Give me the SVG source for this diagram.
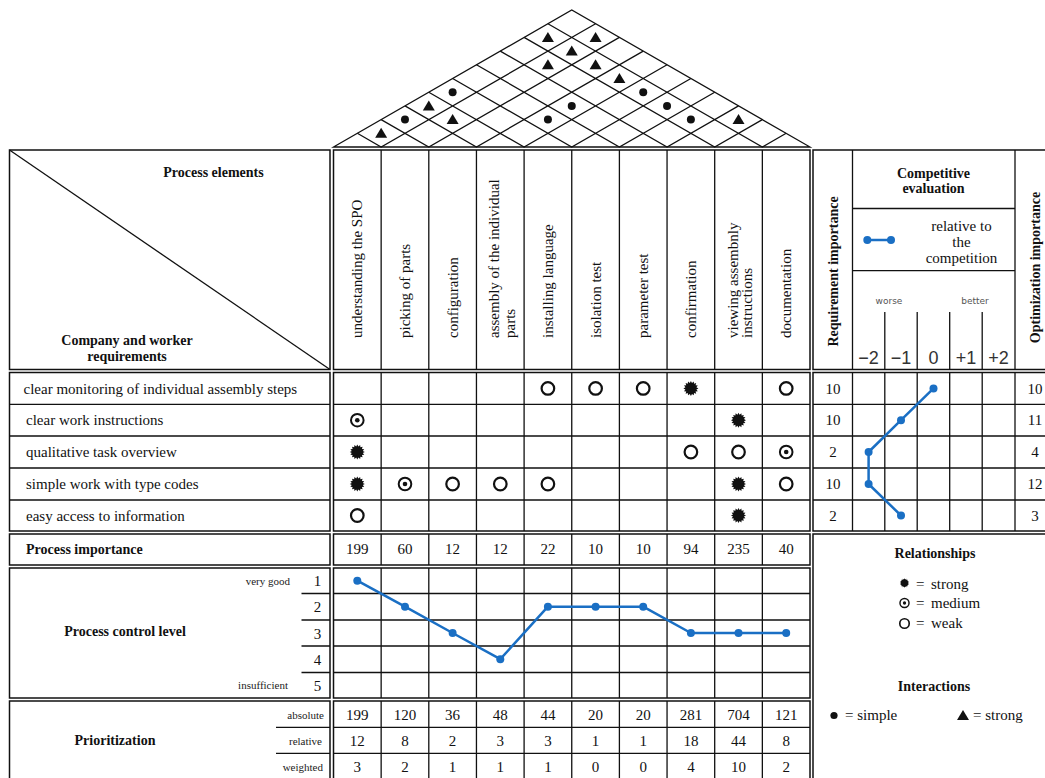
<svg xmlns="http://www.w3.org/2000/svg" width="1045" height="778" viewBox="0 0 1045 778">
<style>
.b{fill:none;stroke:#111;stroke-width:1.5}
.g{fill:none;stroke:#111;stroke-width:1.3}
text{font-family:"Liberation Serif","Times New Roman",serif;font-size:15px;fill:#111}
.bd{font-weight:bold;font-size:14px}
.c{text-anchor:middle}
.e{text-anchor:end}
.sm{font-size:11px;fill:#222}
.ss{font-family:"DejaVu Sans",sans-serif;font-size:9px;fill:#555}
.sc{font-family:"Liberation Sans",sans-serif;font-size:18px;fill:#333;text-anchor:middle}
.bl{fill:none;stroke:#1a6fc4;stroke-width:2.5;stroke-linejoin:round}
.bp{fill:#1a6fc4}
</style>
<defs>
<polygon id="strong" fill="#111" points="7.5,0 5.49,1.09 6.93,2.87 4.66,3.11 5.3,5.3 3.11,4.66 2.87,6.93 1.09,5.49 0,7.5 -1.09,5.49 -2.87,6.93 -3.11,4.66 -5.3,5.3 -4.66,3.11 -6.93,2.87 -5.49,1.09 -7.5,0 -5.49,-1.09 -6.93,-2.87 -4.66,-3.11 -5.3,-5.3 -3.11,-4.66 -2.87,-6.93 -1.09,-5.49 0,-7.5 1.09,-5.49 2.87,-6.93 3.11,-4.66 5.3,-5.3 4.66,-3.11 6.93,-2.87 5.49,-1.09"/>
<g id="medium"><circle r="6.3" fill="none" stroke="#111" stroke-width="2"/><circle r="2.3" fill="#111"/></g>
<circle id="weak" r="6.3" fill="none" stroke="#111" stroke-width="2.2"/>
<polygon id="tri" fill="#111" points="0,-5.5 6,4.5 -6,4.5"/>
<circle id="dot" r="4" fill="#111"/>
<circle id="bdot" r="4" class="bp"/>
</defs>
<rect width="1045" height="778" fill="#fff"/>

<!-- Roof -->
<g id="roof">
<polygon class="g" points="333.5,147 571.75,10 810,147"/>
<path class="g" d="M357.33,133.3L381.15,147L595.58,23.7M381.15,119.6L428.8,147L619.4,37.4M404.98,105.9L476.45,147L643.23,51.1M428.8,92.2L524.1,147L667.05,64.8M452.63,78.5L571.75,147L690.88,78.5M476.45,64.8L619.4,147L714.7,92.2M500.28,51.1L667.05,147L738.53,105.9M524.1,37.4L714.7,147L762.35,119.6M547.93,23.7L762.35,147L786.18,133.3"/>
<use href="#tri" x="381.15" y="133.3"/>
<use href="#dot" x="404.98" y="119.6"/>
<use href="#tri" x="428.8" y="105.9"/>
<use href="#dot" x="452.63" y="92.2"/>
<use href="#tri" x="452.63" y="119.6"/>
<use href="#dot" x="547.93" y="119.6"/>
<use href="#dot" x="571.75" y="105.9"/>
<use href="#tri" x="547.93" y="37.4"/>
<use href="#tri" x="595.58" y="37.4"/>
<use href="#tri" x="571.75" y="51.1"/>
<use href="#tri" x="547.93" y="64.8"/>
<use href="#tri" x="595.58" y="64.8"/>
<use href="#tri" x="619.4" y="78.5"/>
<use href="#dot" x="643.23" y="92.2"/>
<use href="#dot" x="667.05" y="105.9"/>
<use href="#dot" x="690.88" y="119.6"/>
<use href="#tri" x="738.53" y="119.6"/>
</g>

<!-- Header left -->
<g id="header-left">
<rect class="b" x="9.5" y="150" width="320.5" height="219.5"/>
<line class="g" x1="9.5" y1="150" x2="330" y2="369.5"/>
<text class="bd c" x="213.5" y="177">Process elements</text>
<text class="bd c" x="127" y="345">Company and worker</text>
<text class="bd c" x="127" y="360.5">requirements</text>
</g>

<!-- Header process columns -->
<g id="header-columns">
<rect class="b" x="333.5" y="150" width="476.5" height="219.5"/>
<path class="g" d="M381.15,150V369.5M428.8,150V369.5M476.45,150V369.5M524.1,150V369.5M571.75,150V369.5M619.4,150V369.5M667.05,150V369.5M714.7,150V369.5M762.35,150V369.5"/>
<text transform="translate(362.3,338) rotate(-90)">understanding the SPO</text>
<text transform="translate(410,338) rotate(-90)">picking of parts</text>
<text transform="translate(457.6,338) rotate(-90)">configuration</text>
<text transform="translate(499.3,338) rotate(-90)">assembly of the individual</text>
<text transform="translate(514.8,338) rotate(-90)">parts</text>
<text transform="translate(552.9,338) rotate(-90)">installing language</text>
<text transform="translate(600.6,338) rotate(-90)">isolation test</text>
<text transform="translate(648.2,338) rotate(-90)">parameter test</text>
<text transform="translate(695.9,338) rotate(-90)">confirmation</text>
<text transform="translate(738,338) rotate(-90)">viewing assembnly</text>
<text transform="translate(752,338) rotate(-90)">instructions</text>
<text transform="translate(791.2,338) rotate(-90)">documentation</text>
</g>

<!-- Header right -->
<g id="header-right">
<rect class="b" x="813" y="150" width="240" height="219.5"/>
<path class="g" d="M852.5,150V369.5M1015,150V369.5M852.5,208.5H1015M852.5,270.7H1015M884.8,312V369.5M917.2,312V369.5M949.7,312V369.5M982.2,312V369.5"/>
<text class="bd c" transform="translate(837.5,271.5) rotate(-90)">Requirement importance</text>
<text class="bd c" transform="translate(1039.5,267.5) rotate(-90)">Optimization importance</text>
<text class="bd c" x="933.5" y="178">Competitive</text>
<text class="bd c" x="933.5" y="193">evaluation</text>
<line class="bl" x1="867.3" y1="240" x2="891" y2="240"/>
<use href="#bdot" x="867.3" y="240"/>
<use href="#bdot" x="891" y="240"/>
<text class="c" x="961.5" y="231">relative to</text>
<text class="c" x="961.5" y="247">the</text>
<text class="c" x="961.5" y="263">competition</text>
<text class="ss c" x="889" y="304">worse</text>
<text class="ss c" x="975" y="304">better</text>
<text class="sc" x="868.6" y="364">−2</text>
<text class="sc" x="901" y="364">−1</text>
<text class="sc" x="933.5" y="364">0</text>
<text class="sc" x="966" y="364">+1</text>
<text class="sc" x="998.6" y="364">+2</text>
</g>

<!-- Requirements (rows) -->
<g id="requirements">
<rect class="b" x="9.5" y="372.5" width="320.5" height="158.5"/>
<path class="g" d="M9.5,404.3H330M9.5,436H330M9.5,468H330M9.5,500H330"/>
<text x="23.5" y="393.5">clear monitoring of individual assembly steps</text>
<text x="26" y="425.2">clear work instructions</text>
<text x="26" y="457">qualitative task overview</text>
<text x="26" y="489">simple work with type codes</text>
<text x="26" y="520.5">easy access to information</text>
</g>

<!-- Relationship matrix -->
<g id="relationship-matrix">
<rect class="b" x="333.5" y="372.5" width="476.5" height="158.5"/>
<path class="g" d="M333.5,404.3H810M333.5,436H810M333.5,468H810M333.5,500H810M381.15,372.5V531M428.8,372.5V531M476.45,372.5V531M524.1,372.5V531M571.75,372.5V531M619.4,372.5V531M667.05,372.5V531M714.7,372.5V531M762.35,372.5V531"/>
<use href="#weak" x="547.9" y="388.4"/>
<use href="#weak" x="595.6" y="388.4"/>
<use href="#weak" x="643.2" y="388.4"/>
<use href="#strong" x="690.9" y="388.4"/>
<use href="#weak" x="786.2" y="388.4"/>
<use href="#medium" x="357.3" y="420.2"/>
<use href="#strong" x="738.5" y="420.2"/>
<use href="#strong" x="357.3" y="452"/>
<use href="#weak" x="690.9" y="452"/>
<use href="#weak" x="738.5" y="452"/>
<use href="#medium" x="786.2" y="452"/>
<use href="#strong" x="357.3" y="484"/>
<use href="#medium" x="405" y="484"/>
<use href="#weak" x="452.6" y="484"/>
<use href="#weak" x="500.3" y="484"/>
<use href="#weak" x="547.9" y="484"/>
<use href="#strong" x="738.5" y="484"/>
<use href="#weak" x="786.2" y="484"/>
<use href="#weak" x="357.3" y="515.5"/>
<use href="#strong" x="738.5" y="515.5"/>
</g>

<!-- Right rows: importance and competitive evaluation -->
<g id="competitive-rows">
<rect class="b" x="813" y="372.5" width="240" height="158.5"/>
<path class="g" d="M813,404.3H1053M813,436H1053M813,468H1053M813,500H1053M852.5,372.5V531M884.8,372.5V531M917.2,372.5V531M949.7,372.5V531M982.2,372.5V531M1015,372.5V531"/>
<text class="c" x="833" y="393.5">10</text>
<text class="c" x="833" y="425.2">10</text>
<text class="c" x="833" y="457">2</text>
<text class="c" x="833" y="489">10</text>
<text class="c" x="833" y="520.5">2</text>
<text class="c" x="1035" y="393.5">10</text>
<text class="c" x="1035" y="425.2">11</text>
<text class="c" x="1035" y="457">4</text>
<text class="c" x="1035" y="489">12</text>
<text class="c" x="1035" y="520.5">3</text>
</g>

<!-- Process importance -->
<g id="process-importance">
<rect class="b" x="9.5" y="534" width="320.5" height="31"/>
<text class="bd" x="26" y="554">Process importance</text>
<rect class="b" x="333.5" y="534" width="476.5" height="31"/>
<path class="g" d="M381.15,534V565M428.8,534V565M476.45,534V565M524.1,534V565M571.75,534V565M619.4,534V565M667.05,534V565M714.7,534V565M762.35,534V565"/>
<text class="c" x="357.3" y="554">199</text>
<text class="c" x="405" y="554">60</text>
<text class="c" x="452.6" y="554">12</text>
<text class="c" x="500.3" y="554">12</text>
<text class="c" x="547.9" y="554">22</text>
<text class="c" x="595.6" y="554">10</text>
<text class="c" x="643.2" y="554">10</text>
<text class="c" x="690.9" y="554">94</text>
<text class="c" x="738.5" y="554">235</text>
<text class="c" x="786.2" y="554">40</text>
</g>

<!-- Legend -->
<g id="legend">
<rect class="b" x="813" y="534" width="240" height="250"/>
<text class="bd c" x="935" y="558">Relationships</text>
<use href="#strong" transform="translate(904.5,583) scale(0.62)"/>
<text x="916" y="589">=<tspan x="931">strong</tspan></text>
<use href="#medium" transform="translate(904.5,603) scale(0.72)"/>
<text x="916" y="608">=<tspan x="931">medium</tspan></text>
<use href="#weak" transform="translate(904.5,623.5) scale(0.75)"/>
<text x="916" y="628">=<tspan x="931">weak</tspan></text>
<text class="bd c" x="934" y="691">Interactions</text>
<use href="#dot" transform="translate(834,715.5) scale(0.9)"/>
<text x="845" y="719.5">= simple</text>
<use href="#tri" transform="translate(963,715.5)"/>
<text x="973" y="719.5">= strong</text>
</g>

<!-- Process control level -->
<g id="process-control-level">
<rect class="b" x="9.5" y="568" width="320.5" height="130"/>
<path class="g" d="M301.5,593.5H330M301.5,620H330M301.5,646H330M301.5,672.5H330"/>
<text class="bd c" x="125" y="636">Process control level</text>
<text class="sm e" x="290" y="585">very good</text>
<text class="sm e" x="288" y="689">insufficient</text>
<text class="c" x="317.5" y="586">1</text>
<text class="c" x="317.5" y="612">2</text>
<text class="c" x="317.5" y="638.5">3</text>
<text class="c" x="317.5" y="664.5">4</text>
<text class="c" x="317.5" y="690.5">5</text>
<rect class="b" x="333.5" y="568" width="476.5" height="130"/>
<path class="g" d="M333.5,593.5H810M333.5,620H810M333.5,646H810M333.5,672.5H810M381.15,568V698M428.8,568V698M476.45,568V698M524.1,568V698M571.75,568V698M619.4,568V698M667.05,568V698M714.7,568V698M762.35,568V698"/>
</g>

<!-- Prioritization -->
<g id="prioritization">
<rect class="b" x="9.5" y="701" width="320.5" height="84"/>
<path class="g" d="M276,727.3H330M276,753.3H330"/>
<text class="bd c" x="115" y="745">Prioritization</text>
<text class="sm e" x="324" y="719">absolute</text>
<text class="sm e" x="322" y="745">relative</text>
<text class="sm e" x="323" y="771">weighted</text>
<rect class="b" x="333.5" y="701" width="476.5" height="84"/>
<path class="g" d="M333.5,727.3H810M333.5,753.3H810M381.15,701V785M428.8,701V785M476.45,701V785M524.1,701V785M571.75,701V785M619.4,701V785M667.05,701V785M714.7,701V785M762.35,701V785"/>
<g class="c">
<text class="c" x="357.3" y="720">199</text><text class="c" x="405" y="720">120</text><text class="c" x="452.6" y="720">36</text><text class="c" x="500.3" y="720">48</text><text class="c" x="547.9" y="720">44</text><text class="c" x="595.6" y="720">20</text><text class="c" x="643.2" y="720">20</text><text class="c" x="690.9" y="720">281</text><text class="c" x="738.5" y="720">704</text><text class="c" x="786.2" y="720">121</text>
<text class="c" x="357.3" y="746">12</text><text class="c" x="405" y="746">8</text><text class="c" x="452.6" y="746">2</text><text class="c" x="500.3" y="746">3</text><text class="c" x="547.9" y="746">3</text><text class="c" x="595.6" y="746">1</text><text class="c" x="643.2" y="746">1</text><text class="c" x="690.9" y="746">18</text><text class="c" x="738.5" y="746">44</text><text class="c" x="786.2" y="746">8</text>
<text class="c" x="357.3" y="772">3</text><text class="c" x="405" y="772">2</text><text class="c" x="452.6" y="772">1</text><text class="c" x="500.3" y="772">1</text><text class="c" x="547.9" y="772">1</text><text class="c" x="595.6" y="772">0</text><text class="c" x="643.2" y="772">0</text><text class="c" x="690.9" y="772">4</text><text class="c" x="738.5" y="772">10</text><text class="c" x="786.2" y="772">2</text>
</g>
</g>

<!-- Connectors: value profiles -->
<g id="connectors">
<polyline class="bl" points="933.5,388.4 901,420.2 868.6,452 868.6,484 901,515.5"/>
<use href="#bdot" x="933.5" y="388.4"/>
<use href="#bdot" x="901" y="420.2"/>
<use href="#bdot" x="868.6" y="452"/>
<use href="#bdot" x="868.6" y="484"/>
<use href="#bdot" x="901" y="515.5"/>
<polyline class="bl" points="357.3,580.7 405,606.7 452.6,633 500.3,659.2 547.9,606.7 595.6,606.7 643.2,606.7 690.9,633 738.5,633 786.2,633"/>
<use href="#bdot" x="357.3" y="580.7"/>
<use href="#bdot" x="405" y="606.7"/>
<use href="#bdot" x="452.6" y="633"/>
<use href="#bdot" x="500.3" y="659.2"/>
<use href="#bdot" x="547.9" y="606.7"/>
<use href="#bdot" x="595.6" y="606.7"/>
<use href="#bdot" x="643.2" y="606.7"/>
<use href="#bdot" x="690.9" y="633"/>
<use href="#bdot" x="738.5" y="633"/>
<use href="#bdot" x="786.2" y="633"/>
</g>
</svg>
